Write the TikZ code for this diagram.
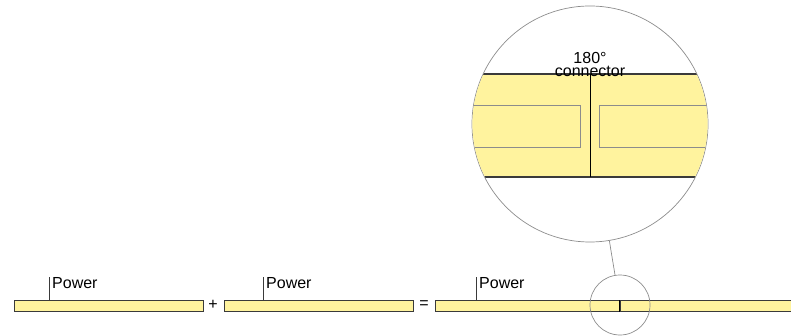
\documentclass[tikz,border=0pt]{standalone}
\usepackage{fontspec}
\setmainfont{Liberation Sans}
\usepackage{tikz}
\usepackage{xcolor}
\definecolor{bandyellow}{HTML}{FFF39E}
\definecolor{edgegray}{HTML}{3A3A3A}
\definecolor{lensgray}{HTML}{8C8C8C}

\begin{document}
\begin{tikzpicture}[x=1pt, y=-1pt,
  bar/.style={draw=edgegray, fill=bandyellow, line width=1pt, minimum height=11pt, inner sep=0pt},
  lens/.style={draw=lensgray, circle, line width=0.7pt, inner sep=0pt},
  label/.style={font=\fontsize{16}{12.5}\selectfont, inner sep=0pt},
  tick/.style={edgegray, line width=1pt}
]
\clip (0,0) rectangle (791,336);
\useasboundingbox (0,0) rectangle (791,336);

% Bars
\node[bar, minimum width=189pt, anchor=west] (bar1) at (14,306) {};
\node[bar, minimum width=189pt, anchor=west] (bar2) at (224,306) {};
\node[bar, minimum width=184pt, anchor=west] (bar3) at (435,306) {};
\node[bar, minimum width=190pt, anchor=west] (bar4) at (619.5,306) {};
\node[label] (plus) at (213,305) {+};
\node[label] (equals) at (424,305) {=};

% Power labels
\node[label, anchor=base west] (power1) at (52,288) {Power};
\node[label, anchor=base west] (power2) at (266,288) {Power};
\node[label, anchor=base west] (power3) at (479,288) {Power};
\draw[tick] (bar1.north west) ++(35,0) coordinate (tap1) -- (tap1 |- power1.north);
\draw[tick] (bar2.north west) ++(39,0) coordinate (tap2) -- (tap2 |- power2.north);
\draw[tick] (bar3.north west) ++(41,0) coordinate (tap3) -- (tap3 |- power3.north);
\draw[black, line width=1pt] (bar4.north west) -- (bar4.south west);

% Magnified view
\node[lens, minimum size=60pt] (spot) at (620,305) {};
\node[lens, minimum size=236pt] (zoom) at (590,124) {};
\begin{scope}
  \clip (zoom.center) circle (117.6);
  \fill[bandyellow] (460,74) rectangle (720,177);
  \draw[lensgray, line width=0.8pt] (460,105) rectangle (580.5,147);
  \draw[lensgray, line width=0.8pt] (599.5,105) rectangle (720,147);
  \draw[edgegray, line width=1.2pt] (460,74) -- (720,74);
  \draw[edgegray, line width=1.2pt] (460,177) -- (720,177);
  \draw[black, line width=1pt] (590,74) -- (590,177);
\end{scope}
\node[label, align=center, anchor=base] (caption) at (590,76.5) {180°\\connector};
\draw[lensgray, line width=0.7pt] (spot) -- (zoom);
\end{tikzpicture}
\end{document}
